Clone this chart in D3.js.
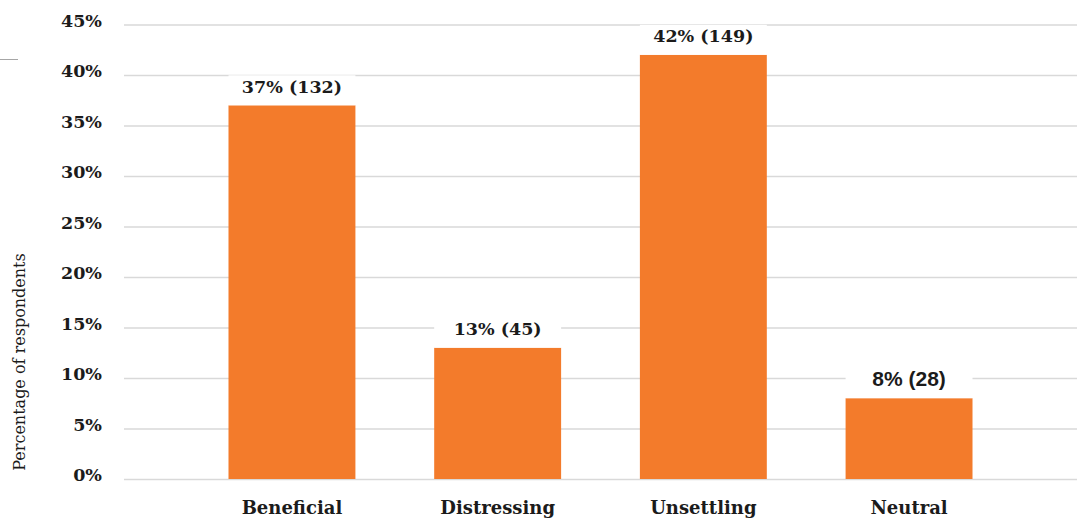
<!DOCTYPE html>
<html>
<head>
<meta charset="utf-8">
<script src="https://cdn.jsdelivr.net/npm/d3@7"></script>
<style>
  html, body { margin: 0; padding: 0; background: #fff; }
  svg { display: block; }
</style>
</head>
<body>
<svg id="chart" width="1083" height="520"></svg>
<script>
// Survey responses: share of respondents per reaction
const categories = ["Beneficial", "Distressing", "Unsettling", "Neutral"];
const percentValues = [37, 13, 42, 8];
const respondentCounts = [132, 45, 149, 28];
const tickValues = [0, 5, 10, 15, 20, 25, 30, 35, 40, 45];
const yAxisTitle = "Percentage of respondents";

const W = 1083, H = 520;
const plotLeft = 124, plotRight = 1077;
const plotTop = 24.5, plotBottom = 479;

const serif = "'DejaVu Serif', 'Liberation Serif', serif";
const sans = "'Liberation Sans', Arial, sans-serif";
const orange = "#F37B2B";
const ink = "#1b1b1b";

const svg = d3.select("#chart");

const x = d3.scaleBand()
  .domain(categories)
  .range([plotLeft, plotRight])
  .paddingInner(0.383)
  .paddingOuter(0.508);

const y = d3.scaleLinear()
  .domain([0, 45])
  .range([plotBottom, plotTop]);

// small rule in the top-left corner
svg.append("line")
  .attr("x1", 0).attr("x2", 18)
  .attr("y1", 59.5).attr("y2", 59.5)
  .attr("stroke", "#a6a6a6").attr("stroke-width", 1);

// horizontal gridlines + tick labels via d3 axis
const yAxis = d3.axisLeft(y)
  .tickValues(tickValues)
  .tickSize(-(plotRight - plotLeft))
  .tickFormat(d => d + "%")
  .tickPadding(22);

const gy = svg.append("g")
  .attr("transform", `translate(${plotLeft},0)`)
  .call(yAxis);
gy.select(".domain").remove();
gy.selectAll(".tick line")
  .attr("stroke", "#d9d9d9")
  .attr("stroke-width", 1.3);
gy.selectAll(".tick text")
  .attr("fill", ink)
  .attr("dy", "1.5")
  .style("dominant-baseline", "alphabetic")
  .style("font-family", serif)
  .style("font-weight", "bold")
  .style("font-size", "17.5px");

// bars
svg.append("g")
  .selectAll("rect")
  .data(categories)
  .join("rect")
  .attr("x", d => x(d))
  .attr("width", x.bandwidth())
  .attr("y", (d, i) => y(percentValues[i]))
  .attr("height", (d, i) => y(0) - y(percentValues[i]))
  .attr("fill", orange);

// value labels with white backing that hides gridlines behind them
const labels = svg.append("g")
  .selectAll("g")
  .data(categories)
  .join("g");

labels.append("rect")
  .attr("x", d => x(d))
  .attr("width", x.bandwidth())
  .attr("y", (d, i) => y(percentValues[i]) - 30)
  .attr("height", 30)
  .attr("fill", "#fff");

labels.append("text")
  .attr("x", d => x(d) + x.bandwidth() / 2)
  .attr("y", (d, i) => y(percentValues[i]) - 12.5)
  .attr("text-anchor", "middle")
  .attr("fill", ink)
  .style("font-family", d => d === "Neutral" ? sans : serif)
  .style("font-size", d => d === "Neutral" ? "21px" : "17.5px")
  .style("font-weight", "bold")
  .text((d, i) => `${percentValues[i]}% (${respondentCounts[i]})`);

// category labels
const xAxis = d3.axisBottom(x).tickSize(0).tickPadding(0);
const gx = svg.append("g")
  .attr("transform", `translate(0,${plotBottom})`)
  .call(xAxis);
gx.select(".domain").remove();
gx.selectAll(".tick text")
  .attr("y", 35)
  .attr("dy", 0)
  .attr("fill", ink)
  .style("font-family", serif)
  .style("font-weight", "bold")
  .style("font-size", "18px");

// y-axis title
svg.append("text")
  .attr("transform", `translate(25,362) rotate(-90)`)
  .attr("text-anchor", "middle")
  .attr("fill", ink)
  .style("font-family", serif)
  .style("font-size", "16px")
  .text(yAxisTitle);
</script>
</body>
</html>
